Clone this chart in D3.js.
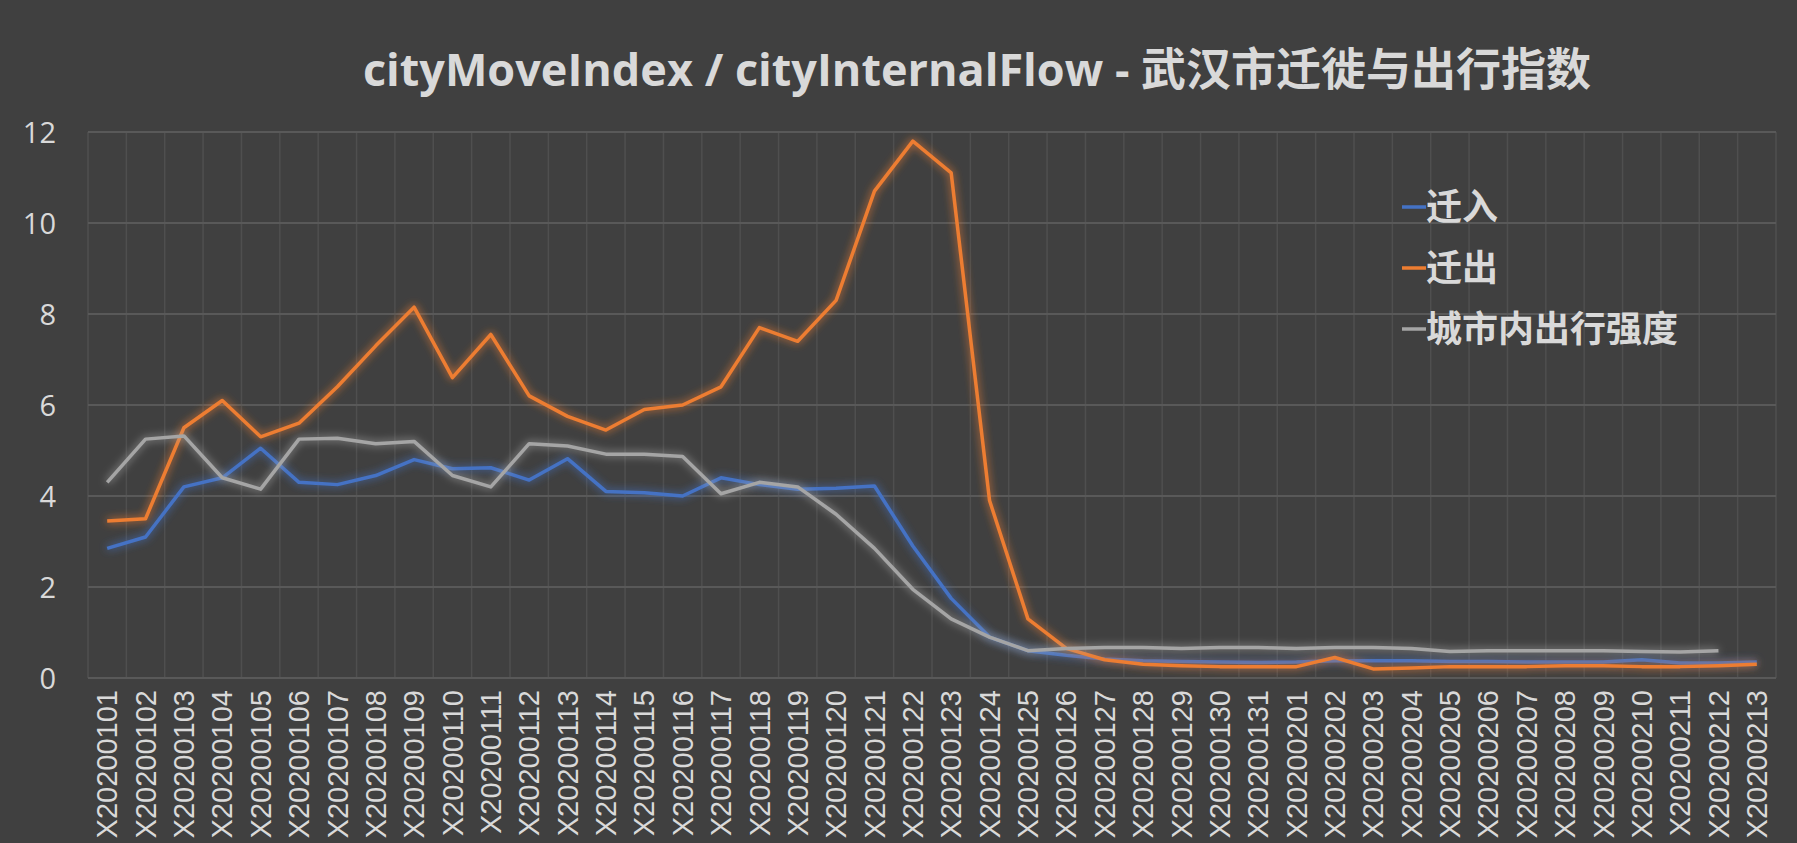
<!DOCTYPE html>
<html><head><meta charset="utf-8">
<script src="https://cdn.jsdelivr.net/npm/d3@7"></script>
<style>body{margin:0;background:#404040;overflow:hidden;}</style>
</head><body>
<svg id="chart" width="1797" height="843"></svg>
<script>
const dates = ['0101','0102','0103','0104','0105','0106','0107','0108','0109','0110','0111','0112','0113','0114','0115','0116','0117','0118','0119','0120','0121','0122','0123','0124','0125','0126','0127','0128','0129','0130','0131','0201','0202','0203','0204','0205','0206','0207','0208','0209','0210','0211','0212','0213'].map(d => 'X2020' + d)
const moveIn = [2.85,3.1,4.2,4.4,5.05,4.3,4.25,4.45,4.8,4.6,4.62,4.35,4.82,4.1,4.07,4.0,4.4,4.25,4.15,4.17,4.22,2.9,1.75,0.9,0.6,0.5,0.42,0.38,0.36,0.35,0.34,0.35,0.38,0.38,0.38,0.36,0.36,0.35,0.35,0.35,0.4,0.33,0.33,0.35]
const moveOut = [3.45,3.5,5.5,6.1,5.3,5.6,6.4,7.3,8.15,6.6,7.55,6.2,5.75,5.45,5.9,6.0,6.4,7.7,7.4,8.3,10.7,11.8,11.1,3.9,1.3,0.65,0.4,0.3,0.27,0.25,0.25,0.25,0.45,0.2,0.22,0.25,0.25,0.25,0.27,0.27,0.25,0.25,0.27,0.3]
const internalFlow = [4.3,5.25,5.32,4.4,4.15,5.25,5.27,5.15,5.2,4.45,4.2,5.15,5.1,4.92,4.92,4.87,4.05,4.3,4.2,3.6,2.85,1.95,1.3,0.9,0.6,0.65,0.67,0.67,0.65,0.67,0.67,0.65,0.67,0.67,0.65,0.58,0.6,0.6,0.6,0.6,0.58,0.57,0.6,null]
const yTicks = [0,2,4,6,8,10,12]
const series = [
  {name:'迁入', values: moveIn, color:'#4472c4'},
  {name:'迁出', values: moveOut, color:'#ed7d31'},
  {name:'城市内出行强度', values: internalFlow, color:'#a5a5a5'}
]

const margin = {left: 88, right: 21, top: 132, bottom: 165}
const svg = d3.select('#chart')
const W = 1797, H = 843
const innerWidth = W - margin.left - margin.right
const innerHeight = H - margin.top - margin.bottom

const defs = svg.append('defs')
defs.append('filter').attr('id','glow').attr('x','-10%').attr('y','-10%').attr('width','120%').attr('height','120%')
  .call(f => {
    f.append('feGaussianBlur').attr('in','SourceGraphic').attr('stdDeviation',4).attr('result','b')
    const m = f.append('feMerge')
    m.append('feMergeNode').attr('in','b')
    m.append('feMergeNode').attr('in','SourceGraphic')
  })

svg.append('rect').attr('width',W).attr('height',H).attr('fill','#404040')

const xScale = d3.scaleBand().domain(dates).range([0, innerWidth])
const yScale = d3.scaleLinear().domain([0,12]).range([innerHeight,0])
const g = svg.append('g').attr('transform',`translate(${margin.left},${margin.top})`)

// grid
g.selectAll('.vg').data(dates.concat(['end'])).join('line')
  .attr('x1',(d,i)=>i*xScale.bandwidth()).attr('x2',(d,i)=>i*xScale.bandwidth())
  .attr('y1',0).attr('y2',innerHeight).attr('stroke','#4f4f4f').attr('stroke-width',1.5)
g.selectAll('.hg').data(yTicks).join('line')
  .attr('x1',0).attr('x2',innerWidth).attr('y1',d=>yScale(d)).attr('y2',d=>yScale(d))
  .attr('stroke','#595959').attr('stroke-width',2)

// y axis
g.append('g').call(d3.axisLeft(yScale).tickValues(yTicks).tickSize(0).tickPadding(32))
  .call(a => a.select('.domain').remove())
  .selectAll('text').style('font-size','29px').style('font-family','"Open Sans", "Noto Sans", sans-serif').attr('fill','#d9d9d9').attr('dy','0.35em')

// x axis
g.append('g').attr('transform',`translate(0,${innerHeight})`)
  .call(d3.axisBottom(xScale).tickSize(0))
  .call(a => a.select('.domain').remove())
  .selectAll('text')
  .attr('transform','rotate(-90)').attr('x',-12).attr('y',0).attr('dy','0.35em')
  .style('text-anchor','end').style('font-size','29px').style('font-family','"Liberation Sans", Arial, sans-serif').attr('fill','#d9d9d9')

const line = d3.line().defined(d => d != null)
  .x((d,i)=>xScale(dates[i]) + xScale.bandwidth()/2).y(d=>yScale(d))

series.forEach(s => {
  g.append('path').datum(s.values).attr('d',line).attr('fill','none')
    .attr('stroke',s.color).attr('stroke-width',3.5).attr('stroke-linejoin','round')
    .attr('filter','url(#glow)')
})

// title
svg.append('text').attr('x',977).attr('y',86).attr('text-anchor','middle')
  .text('cityMoveIndex / cityInternalFlow - 武汉市迁徙与出行指数')
  .style('font-size','45px').style('font-weight','bold').style('font-family','"Open Sans", "Noto Sans CJK SC", sans-serif').attr('fill','#d9d9d9')

// legend
const leg = svg.append('g').attr('transform','translate(1402,207)')
series.forEach((s,i) => {
  const r = leg.append('g').attr('transform',`translate(0,${i*61})`)
  r.append('line').attr('x1',0).attr('x2',24).attr('stroke',s.color).attr('stroke-width',3.5)
  r.append('text').attr('x',24).attr('dy','0.36em').text(s.name)
    .style('font-size','36px').style('font-weight','bold').style('font-family','"Noto Sans CJK SC", sans-serif').attr('fill','#d9d9d9')
})
</script>
</body></html>
